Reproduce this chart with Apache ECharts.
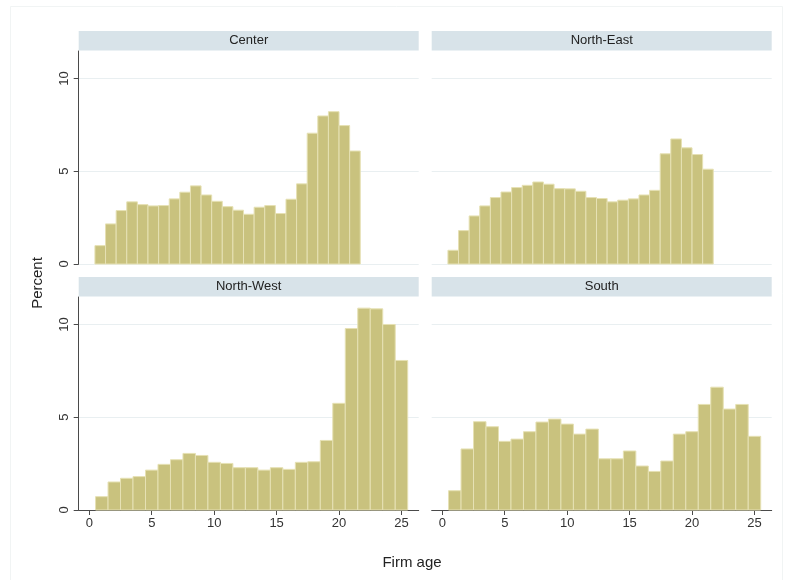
<!DOCTYPE html>
<html>
<head>
<meta charset="utf-8">
<script src="https://cdn.jsdelivr.net/npm/echarts@6/dist/echarts.min.js"></script>
<style>
  html, body { margin: 0; padding: 0; background: #fff; }
  #chart { width: 787px; height: 580px; }
</style>
</head>
<body>
<div id="chart"></div>
<script>
// Firm age distribution by region (percent of firms per age bin)
const regions = ['Center', 'North-East', 'North-West', 'South'];

// Bin layout: Center and North-East span a shorter age range, so their bins are narrower
const binStartShort = 0.45, binWidthShort = 0.85;
const binStartLong = 0.5, binWidthLong = 1;

const centerPct = [0.99, 2.16, 2.88, 3.35, 3.20, 3.13, 3.15, 3.51, 3.87, 4.21, 3.72, 3.38, 3.09,
  2.90, 2.68, 3.06, 3.15, 2.72, 3.49, 4.32, 7.05, 7.98, 8.21, 7.46, 6.09];
const northEastPct = [0.74, 1.80, 2.59, 3.13, 3.58, 3.88, 4.12, 4.24, 4.42, 4.30, 4.06, 4.05, 3.92,
  3.58, 3.53, 3.35, 3.44, 3.51, 3.72, 3.97, 5.94, 6.74, 6.26, 5.90, 5.11];
const northWestPct = [0.72, 1.51, 1.71, 1.80, 2.15, 2.46, 2.71, 3.05, 2.94, 2.57, 2.51, 2.28, 2.28,
  2.15, 2.28, 2.19, 2.57, 2.60, 3.75, 5.75, 9.78, 10.88, 10.84, 10.00, 8.06];
const southPct = [1.04, 3.29, 4.76, 4.49, 3.70, 3.82, 4.22, 4.74, 4.90, 4.63, 4.09, 4.36, 2.76,
  2.76, 3.18, 2.37, 2.08, 2.64, 4.09, 4.22, 5.69, 6.62, 5.44, 5.69, 3.97];

const xTicks = [0, 5, 10, 15, 20, 25];
const yTicks = [0, 5, 10];
const xTitle = 'Firm age';
const yTitle = 'Percent';

function binsOf(values, start, width) {
  return values.map((v, i) => [start + i * width, start + (i + 1) * width, v]);
}

const panelData = [
  binsOf(centerPct, binStartShort, binWidthShort),
  binsOf(northEastPct, binStartShort, binWidthShort),
  binsOf(northWestPct, binStartLong, binWidthLong),
  binsOf(southPct, binStartLong, binWidthLong)
];

// Panel geometry (pixels)
const colLeft = [78.7, 431.7];
const colWidth = 340;
const rowTop = [51, 297];
const plotH = 213;
const stripH = 19.5;

const FONT = '"Liberation Sans", Arial, sans-serif';
const barFill = '#c9c27e';
const barEdge = '#e6e1b4';
const axisColor = '#4a4a4a';
const gridColor = '#e9eff1';
const stripColor = '#d8e3e9';

const grids = [], xAxes = [], yAxes = [], series = [], graphics = [];

regions.forEach((name, i) => {
  const col = i % 2, row = Math.floor(i / 2);
  const isLeft = col === 0, isBottom = row === 1;
  grids.push({ left: colLeft[col], top: rowTop[row], width: colWidth, height: plotH });

  xAxes.push({
    gridIndex: i, type: 'value', min: -0.85, max: 26.38,
    axisLine: { show: isBottom, onZero: false, lineStyle: { color: axisColor, width: 1 } },
    axisTick: { show: isBottom, length: 5, customValues: xTicks, lineStyle: { color: axisColor } },
    axisLabel: { show: isBottom, customValues: xTicks, color: '#333', fontFamily: FONT, fontSize: 13, margin: 7 },
    splitLine: { show: false }
  });

  yAxes.push({
    gridIndex: i, type: 'value', min: 0, max: 11.48,
    axisLine: { show: isLeft, onZero: false, lineStyle: { color: axisColor, width: 1 } },
    axisTick: { show: isLeft, length: 5, customValues: yTicks, lineStyle: { color: axisColor } },
    axisLabel: { show: isLeft, customValues: yTicks, rotate: 90, color: '#333', fontFamily: FONT, fontSize: 13, margin: 8 },
    splitLine: { show: true, customValues: yTicks, lineStyle: { color: gridColor, width: 1 } }
  });

  series.push({
    type: 'custom',
    xAxisIndex: i, yAxisIndex: i,
    data: panelData[i],
    encode: { x: [0, 1], y: 2 },
    renderItem: function (params, api) {
      const p0 = api.coord([api.value(0), api.value(2)]);
      const p1 = api.coord([api.value(1), 0]);
      return {
        type: 'rect',
        shape: { x: p0[0], y: p0[1], width: p1[0] - p0[0], height: p1[1] - p0[1] },
        style: { fill: barFill, stroke: barEdge, lineWidth: 1 }
      };
    },
    z: 3
  });

  // Panel header strip with region name
  graphics.push({
    type: 'rect', left: colLeft[col], top: rowTop[row] - stripH - 0.5,
    shape: { width: colWidth, height: stripH },
    style: { fill: stripColor }, silent: true
  });
  graphics.push({
    type: 'text',
    x: colLeft[col] + colWidth / 2, y: rowTop[row] - stripH / 2 - 0.5,
    style: { text: name, fill: '#222', font: '13px ' + FONT, textAlign: 'center', textVerticalAlign: 'middle' },
    silent: true
  });
});

// Shared axis titles
graphics.push({
  type: 'text', x: 38, y: 283, rotation: Math.PI / 2,
  style: { text: yTitle, fill: '#222', font: '15px ' + FONT, textAlign: 'center', textVerticalAlign: 'middle' }
});
graphics.push({
  type: 'text', x: 412, y: 563,
  style: { text: xTitle, fill: '#222', font: '15px ' + FONT, textAlign: 'center', textVerticalAlign: 'middle' }
});
// Faint outer frame
graphics.push({
  type: 'rect', left: 8, top: 4, shape: { width: 772, height: 575 },
  style: { fill: 'none', stroke: '#f1f4f4', lineWidth: 1 }, silent: true
});

const chart = echarts.init(document.getElementById('chart'), null, { renderer: 'canvas' });
chart.setOption({
  animation: false,
  backgroundColor: '#ffffff',
  grid: grids,
  xAxis: xAxes,
  yAxis: yAxes,
  series: series,
  graphic: graphics
});
</script>
</body>
</html>
